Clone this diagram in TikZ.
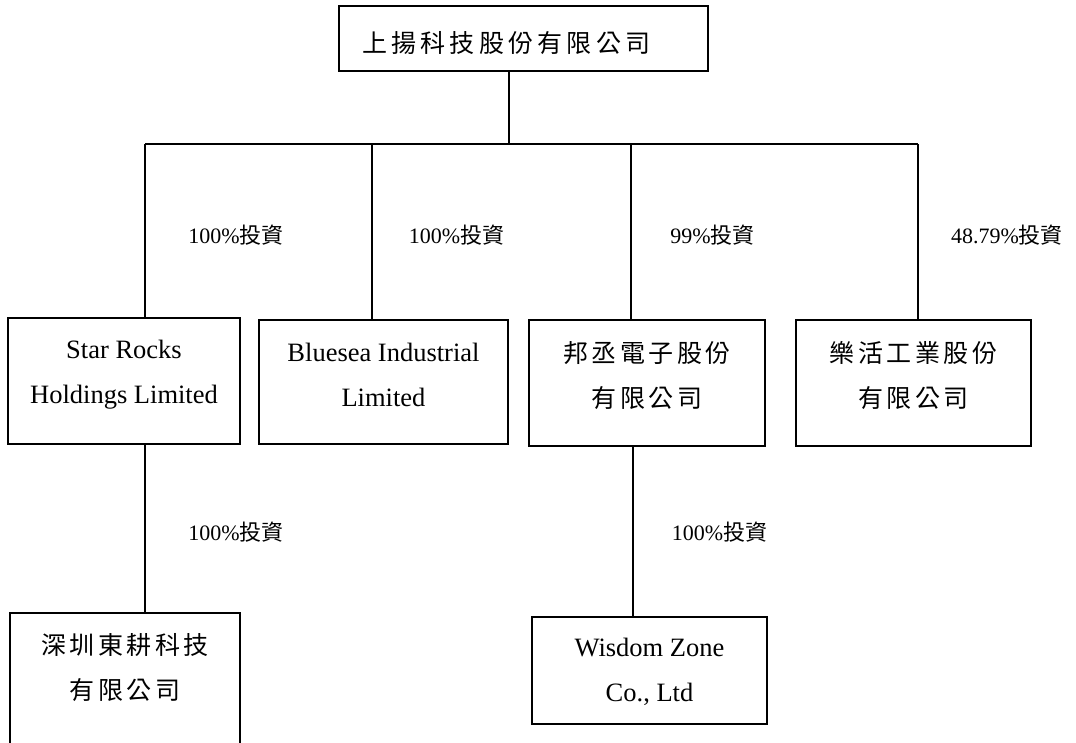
\documentclass[tikz,border=0pt]{standalone}
\usepackage{fontspec}
\setmainfont{Liberation Serif}
\newfontfamily\cjk{Noto Sans CJK TC}
\newfontfamily\cjkw[LetterSpace=14]{Noto Sans CJK TC}
\newfontfamily\cjkt[LetterSpace=17]{Noto Sans CJK TC}
\begin{document}
\begin{tikzpicture}[x=1pt,y=-1pt,
  box/.style={draw, line width=1.8pt, inner sep=0pt, rectangle},
  txt/.style={align=center, inner sep=0pt, font=\fontsize{26.5}{45}\selectfont},
  ctxt/.style={align=center, inner sep=0pt, font=\fontsize{25}{45}\selectfont\cjkw},
  ttxt/.style={inner sep=0pt, font=\fontsize{25}{45}\selectfont\cjkt},
  lbl/.style={inner sep=0pt, font=\fontsize{22}{26}\selectfont},
  conn/.style={line width=1.8pt}]
\useasboundingbox (0,0) rectangle (1076,742);
\clip (0,0) rectangle (1076,742);
% boxes
\node[box, minimum width=369, minimum height=65] (top) at (523.5,38.5) {};
\node[box, minimum width=232, minimum height=126] (star) at (124,381) {};
\node[box, minimum width=249, minimum height=124] (blue) at (383.5,382) {};
\node[box, minimum width=236, minimum height=126] (bang) at (647,383) {};
\node[box, minimum width=235, minimum height=126] (le) at (913.5,383) {};
\node[box, minimum width=230, minimum height=154] (shen) at (125,690) {};
\node[box, minimum width=235, minimum height=107] (wis) at (649.5,670.5) {};
% texts
\node[ttxt, anchor=west] (topt) at (362,43) {上揚科技股份有限公司};
\node[txt] (start) at (124,374.5) {Star Rocks\\Holdings Limited};
\node[txt] (bluet) at (383.5,374.5) {Bluesea Industrial\\Limited};
\node[ctxt] (bangt) at (647,375.5) {邦丞電子股份\\有限公司};
\node[ctxt] (let) at (913.5,375.5) {樂活工業股份\\有限公司};
\node[ctxt] (shent) at (125,668) {深圳東耕科技\\有限公司};
\node[txt] (wist) at (649.5,671.5) {Wisdom Zone\\Co., Ltd};
% labels
\node[lbl] (l1) at (236,235) {100\%{\cjk 投資}};
\node[lbl] (l2) at (456.5,235) {100\%{\cjk 投資}};
\node[lbl] (l3) at (712.5,235) {99\%{\cjk 投資}};
\node[lbl] (l4) at (1007,235) {48.79\%{\cjk 投資}};
\node[lbl] (l5) at (236,532) {100\%{\cjk 投資}};
\node[lbl] (l6) at (719.5,532) {100\%{\cjk 投資}};
% connectors
\coordinate (bus0) at (145,144);
\coordinate (bus1) at (372,144);
\coordinate (bus2) at (631,144);
\coordinate (bus3) at (918,144);
\coordinate (mid) at (509,144);
\coordinate (d1) at (145,444);
\coordinate (d2) at (633,444);
\draw[conn] (top.south -| mid) -- (mid);
\draw[conn] (bus0) -- (bus3);
\draw[conn] (bus0) -- (bus0 |- star.north);
\draw[conn] (bus1) -- (bus1 |- blue.north);
\draw[conn] (bus2) -- (bus2 |- bang.north);
\draw[conn] (bus3) -- (bus3 |- le.north);
\draw[conn] (star.south -| d1) -- (d1 |- shen.north);
\draw[conn] (bang.south -| d2) -- (d2 |- wis.north);
\end{tikzpicture}
\end{document}
